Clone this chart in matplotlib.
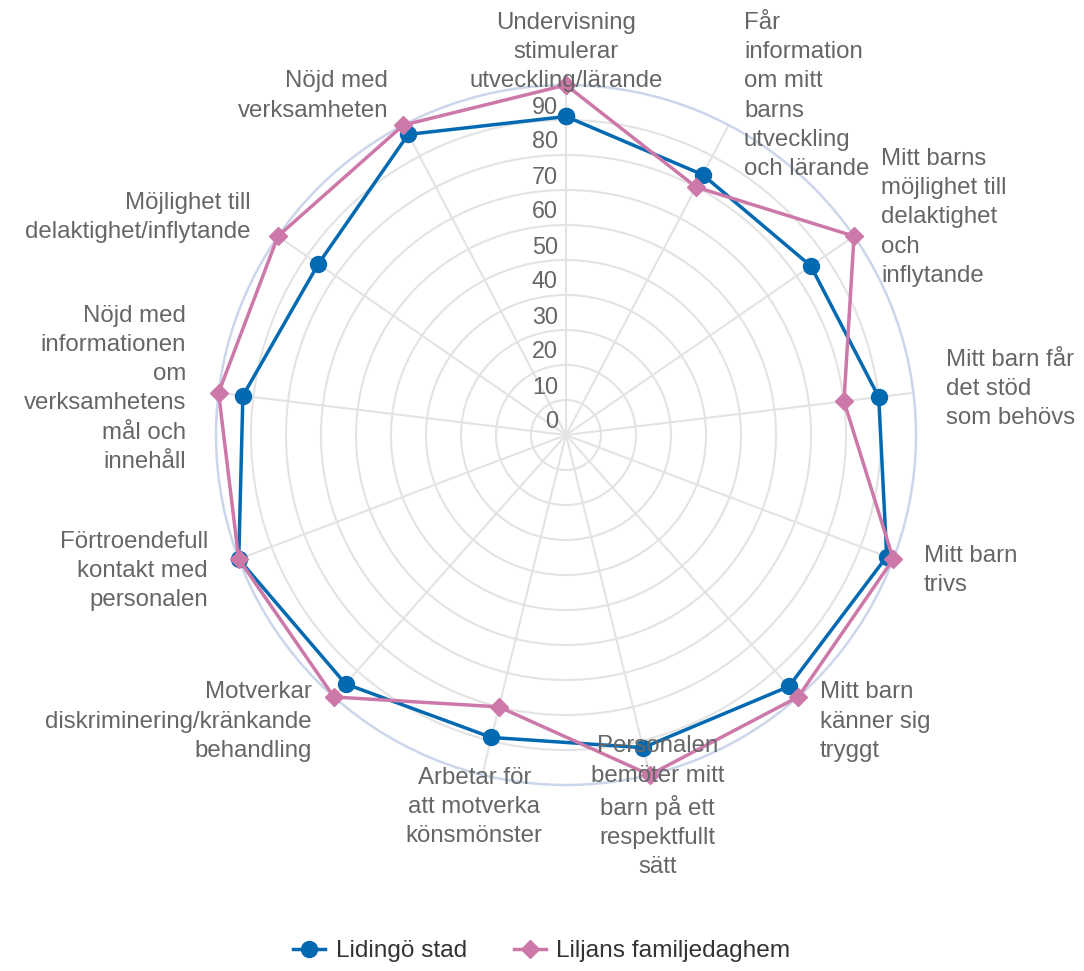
import numpy as np
import matplotlib
matplotlib.use("Agg")
import matplotlib.pyplot as plt
from matplotlib.lines import Line2D
from matplotlib.transforms import ScaledTranslation

plt.rcParams['font.family'] = ['Liberation Sans', 'DejaVu Sans']

# Kategorier (medurs från toppen)
categories = [
    "Undervisning\nstimulerar\nutveckling/lärande",
    "Får\ninformation\nom mitt\nbarns\nutveckling\noch lärande",
    "Mitt barns\nmöjlighet till\ndelaktighet\noch\ninflytande",
    "Mitt barn får\ndet stöd\nsom behövs",
    "Mitt barn\ntrivs",
    "Mitt barn\nkänner sig\ntryggt",
    "Personalen\nbemöter mitt\nbarn på ett\nrespektfullt\nsätt",
    "Arbetar för\natt motverka\nkönsmönster",
    "Motverkar\ndiskriminering/kränkande\nbehandling",
    "Förtroendefull\nkontakt med\npersonalen",
    "Nöjd med\ninformationen\nom\nverksamhetens\nmål och\ninnehåll",
    "Möjlighet till\ndelaktighet/inflytande",
    "Nöjd med\nverksamheten",
]

lidingo = [91, 84, 85, 90, 98, 96, 92, 89, 95, 100, 93, 86, 97]
liljans = [100, 80, 100, 80, 100, 100, 100, 80, 100, 100, 100, 100, 100]

series_names = ["Lidingö stad", "Liljans familjedaghem"]
tick_values = list(range(0, 100, 10))

blue = "#0369b1"
pink = "#cc78a8"
grid_color = "#e3e3e3"
label_color = "#666666"

n = len(categories)
angles = np.arange(n) * 2 * np.pi / n
angles_closed = np.append(angles, angles[0])

fig = plt.figure(figsize=(10.84, 9.71), dpi=100)
ax = fig.add_axes([216 / 1084, 186 / 971, 700 / 1084, 700 / 971], projection="polar")
ax.set_theta_zero_location("N")
ax.set_theta_direction(-1)
ax.set_ylim(0, 100)

# Rutnät
ax.set_rgrids(range(10, 100, 10), labels=[])
ax.set_thetagrids(np.degrees(angles), labels=[])
ax.grid(True, color=grid_color, linewidth=1.5)
ax.spines["polar"].set_color("#ccd6eb")
ax.spines["polar"].set_linewidth(1.8)
ax.tick_params(length=0)

# Skalans etiketter
offset = ScaledTranslation(-8 / 100, 13 / 100, fig.dpi_scale_trans)
for v in tick_values:
    ax.text(0, v, str(v), transform=ax.transData + offset, ha="right", va="center",
            fontsize=16.8, color=label_color, zorder=5)

# Serier
ax.plot(angles_closed, lidingo + lidingo[:1], color=blue, linewidth=2.5,
        marker="o", markersize=11.5, zorder=3, clip_on=False)
ax.plot(angles_closed, liljans + liljans[:1], color=pink, linewidth=2.5,
        marker="D", markersize=9, zorder=4, clip_on=False)

# Kategorietiketter
for ang, lab in zip(angles, categories):
    deg = np.degrees(ang)
    if 20 < deg < 160:
        ha = "left"
    elif 200 < deg < 340:
        ha = "right"
    else:
        ha = "center"
    ax.text(ang, 109.4, lab, ha=ha, va="center", multialignment=ha,
            fontsize=17.3, color=label_color, linespacing=1.42, zorder=6, clip_on=False)

handles = [
    Line2D([], [], color=blue, linewidth=2.5, marker="o", markersize=11.5),
    Line2D([], [], color=pink, linewidth=2.5, marker="D", markersize=9),
]
fig.legend(handles, series_names, loc="center", bbox_to_anchor=(0.5, 1 - 951 / 971),
           ncol=2, frameon=False, fontsize=17.6, handlelength=1.3, handletextpad=0.45,
           columnspacing=1.9, labelcolor="#333333")

fig.savefig("out.png", dpi=100)
